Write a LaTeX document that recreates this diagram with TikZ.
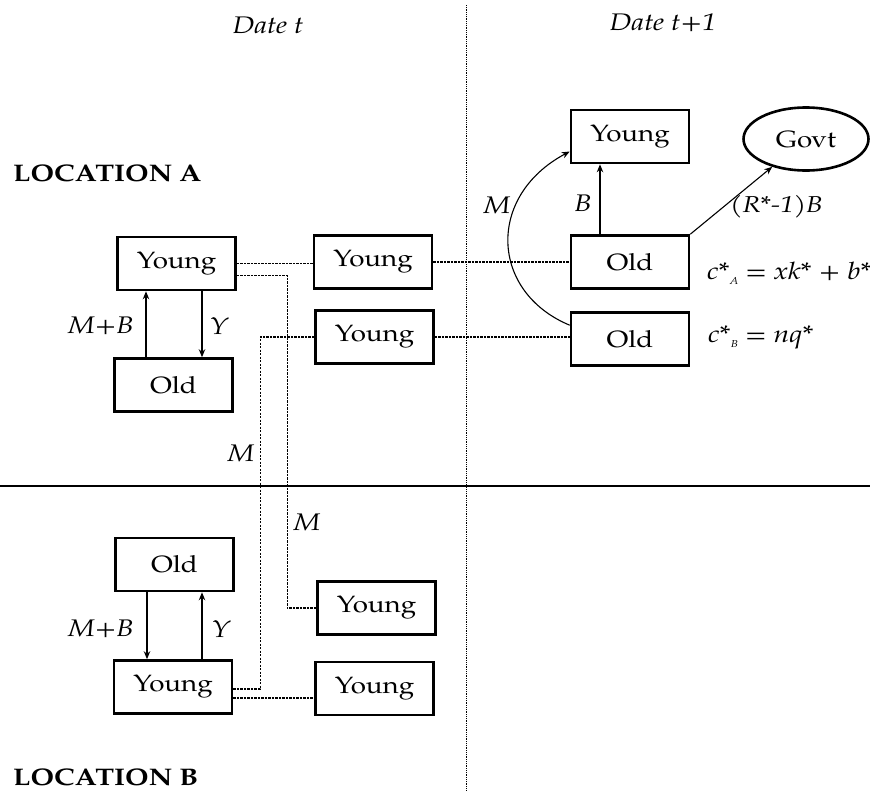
\documentclass[tikz,border=0pt]{standalone}
\usepackage{fontspec}
\setmainfont{TeX Gyre Pagella}[FakeStretch=1.18]
\usetikzlibrary{arrows.meta,shapes.geometric}
\begin{document}
\begin{tikzpicture}[x=1pt,y=-1pt,
  box/.style={draw, line width=2.6pt, minimum width=118pt, minimum height=53pt, inner sep=0pt, font=\fontsize{23.5}{27}\selectfont},
  govtshape/.style={draw, ellipse, line width=2.6pt, minimum width=125pt, minimum height=63pt, inner sep=0pt, font=\fontsize{23.5}{27}\selectfont},
  arr/.style={line width=1.1pt, -{Stealth[length=8pt,width=6.5pt]}},
  conn/.style={line width=1.4pt, dash pattern=on 2.4pt off 1.1pt},
  divider/.style={line width=1pt, dash pattern=on 0.9pt off 0.9pt},
  lbl/.style={inner sep=0pt, font=\fontsize{24}{27}\selectfont\itshape},
  loc/.style={inner sep=0pt, anchor=west, font=\fontsize{24}{28}\selectfont\bfseries}
]
\useasboundingbox (0,0) rectangle (870,790);

% frame lines
\draw[divider] (466,5) -- (466,790);
\draw[line width=1.8pt] (0,486) -- (870,486);

% headings
\node[lbl] (dt)  at (268,25) {Date t};
\node[lbl] (dt1) at (663,23) {Date t+1};
\node[loc] (locA) at (13,173) {LOCATION A};
\node[loc] (locB) at (13,777) {LOCATION B};

% location A, date t
\node[box] (yA1) at (176.5,263.5) {Young};
\node[box] (oA)  at (173.5,385)   {Old};
\node[box] (yA2) at (373,262)     {Young};
\node[box] (yA3) at (374.5,337)   {Young};

% date t+1
\node[box] (yC)  at (630,136.5) {Young};
\node[govtshape] (govt) at (806,139) {Govt};
\node[box] (oC1) at (630,262) {Old};
\node[box] (oC2) at (630,339) {Old};

% location B
\node[box] (oB)  at (174.5,564.5) {Old};
\node[box] (yB1) at (173,687)     {Young};
\node[box] (yB2) at (376.5,608)   {Young};
\node[box] (yB3) at (374.5,688.5) {Young};

% vertical arrows, location A
\path (oA.north) ++(-27.5,0) coordinate (a1);
\draw[arr] (a1) -- (a1 |- yA1.south);
\path (yA1.south) ++(25.5,0) coordinate (a2);
\draw[arr] (a2) -- (a2 |- oA.north);
\node[lbl, anchor=east] (lMBa) at (134,326) {M+B};
\node[lbl] (lYa) at (219,326) {Y};

% vertical arrows, location B
\path (oB.south) ++(-27.5,0) coordinate (b1);
\draw[arr] (b1) -- (b1 |- yB1.north);
\path (yB1.north) ++(29,0) coordinate (b2);
\draw[arr] (b2) -- (b2 |- oB.south);
\node[lbl, anchor=east] (lMBb) at (134,629) {M+B};
\node[lbl] (lYb) at (221,629) {Y};

% date t+1 arrows
\path (oC1.north) ++(-30,0) coordinate (c1);
\draw[arr] (c1) -- (c1 |- yC.south);
\node[lbl] (lB) at (583,203) {B};
\draw[arr] (oC1.north east) -- (govt);
\node[lbl, anchor=east, font=\fontsize{23}{26}\selectfont\itshape] (lR) at (823,207) {(R*-1)B};
\draw[arr] ([yshift=-14pt]oC2.north west) .. controls (490,292) and (486,196) .. ([yshift=-15pt]yC.west);
\node[lbl] (lMc) at (497,205) {M};

% consumption labels
\node[lbl, anchor=west] (cA) at (707,273) {c*\raisebox{-5pt}{\fontsize{10}{10}\selectfont A} = xk* + b*};
\node[lbl, anchor=west] (cB) at (708,337) {c*\raisebox{-5pt}{\fontsize{10}{10}\selectfont B} = nq*};

% dotted flows
\draw[conn] (yA1.east) -- (yA1.east -| yA2.west);
\draw[conn] ([yshift=-12pt]yA1.east) -| ([xshift=-29pt]yB2.west) -- (yB2.west);
\draw[conn] (yA3.west) -- ++(-54,0) |- ([yshift=-2pt]yB1.east);
\draw[conn] ([yshift=-11pt]yB1.east) -- ([yshift=-11pt]yB1.east -| yB3.west);
\draw[conn] (yA2.east) -- (yA2.east -| oC1.west);
\draw[conn] (yA3.east) -- (yA3.east -| oC2.west);
\node[lbl] (lM1) at (241,453) {M};
\node[lbl] (lM2) at (307,522) {M};
\end{tikzpicture}
\end{document}
